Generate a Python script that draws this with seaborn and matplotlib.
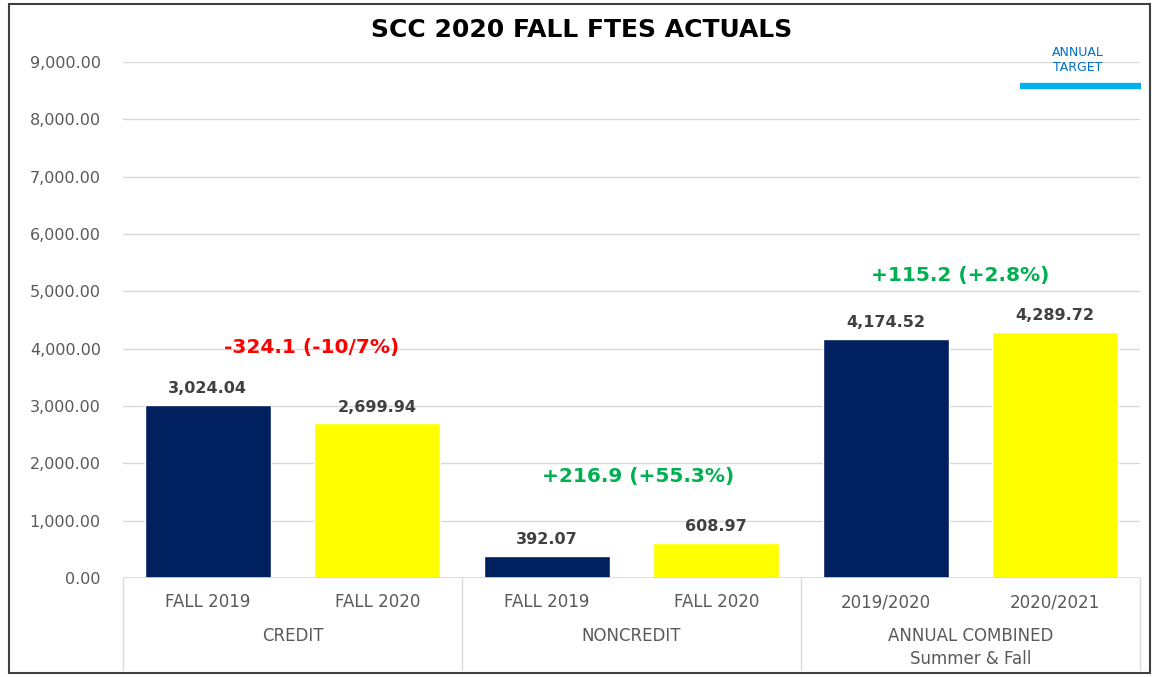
import pandas as pd
import seaborn as sns
import matplotlib.pyplot as plt
from matplotlib.lines import Line2D
from matplotlib.patches import Rectangle
import matplotlib.transforms as mtransforms

# data
groups = ['CREDIT', 'NONCREDIT', 'ANNUAL COMBINED\nSummer & Fall']
periods = ['FALL 2019', 'FALL 2020', 'FALL 2019', 'FALL 2020', '2019/2020', '2020/2021']
ftes = [3024.04, 2699.94, 392.07, 608.97, 4174.52, 4289.72]
changes = ['-324.1 (-10/7%)', '+216.9 (+55.3%)', '+115.2 (+2.8%)']
yticks = [0, 1000, 2000, 3000, 4000, 5000, 6000, 7000, 8000, 9000]

df = pd.DataFrame({'key': [f'{i}' for i in range(len(ftes))], 'period': periods, 'ftes': ftes})
bar_colors = ['#002060', '#FFFF00'] * 3

sns.set_style('white')
plt.rcParams['font.family'] = ['DejaVu Sans']

fig = plt.figure(figsize=(11.52, 6.77), dpi=100)
ax = fig.add_axes([123 / 1152, 1 - 578 / 677, (1140 - 123) / 1152, (578 - 62) / 677])

sns.barplot(data=df, x='key', y='ftes', hue='key', palette=bar_colors, saturation=1,
            width=0.745, legend=False, ax=ax, zorder=3)

ax.set_ylim(0, 9000)
ax.set_xlim(-0.5, 5.5)
ax.set_yticks(yticks)
ax.set_yticklabels([f'{v:,.2f}' for v in yticks], color='#595959', fontsize=11.5)
ax.set_xticks(range(6))
ax.set_xticklabels(periods, color='#595959', fontsize=12)
ax.tick_params(axis='x', length=0, pad=11)
ax.tick_params(axis='y', length=0, pad=16)
ax.set_xlabel('')
ax.set_ylabel('')
ax.grid(axis='y', color='#D9D9D9', linewidth=1, zorder=0)
for s in ax.spines.values():
    s.set_visible(False)
ax.axhline(0, color='#D9D9D9', linewidth=1.2, zorder=4)

# value labels
for i, v in enumerate(ftes):
    ax.text(i, v + 150, f'{v:,.2f}', ha='center', va='bottom', fontsize=11.5,
            fontweight='bold', color='#404040')

# group separators and labels
trans = mtransforms.blended_transform_factory(ax.transData, ax.transAxes)
for xb in [-0.5, 1.5, 3.5, 5.5]:
    ax.add_line(Line2D([xb, xb], [0, -0.178], transform=trans, color='#D9D9D9',
                       linewidth=1, clip_on=False))
for g, name in enumerate(groups):
    ax.text(2 * g + 0.5, -0.095, name, transform=trans, ha='center', va='top',
            fontsize=12, color='#595959', linespacing=1.35)

# change annotations
ax.text(0.615, 4029, changes[0], ha='center', va='center', fontsize=14.5,
        fontweight='bold', color='#FF0000')
ax.text(2.54, 1762, changes[1], ha='center', va='center', fontsize=14.5,
        fontweight='bold', color='#00B050')
ax.text(4.44, 5268, changes[2], ha='center', va='center', fontsize=14.5,
        fontweight='bold', color='#00B050')

# title
fig.text(582 / 1152, 1 - 30 / 677, 'SCC 2020 FALL FTES ACTUALS', ha='center', va='center',
         fontsize=18, fontweight='bold', color='black')

# legend for the annual target series
fig.text(1078 / 1152, 1 - 60 / 677, 'ANNUAL\nTARGET', ha='center', va='center',
         fontsize=9, color='#0070C0', linespacing=1.15)
fig.add_artist(Line2D([1020 / 1152, 1141 / 1152], [1 - 86 / 677, 1 - 86 / 677],
                      color='#00B0F0', linewidth=4.5, solid_capstyle='butt',
                      transform=fig.transFigure))

# chart border
fig.add_artist(Rectangle((9 / 1152, 4 / 677), 1141 / 1152, 669 / 677, fill=False,
                         edgecolor='#404040', linewidth=1.5, transform=fig.transFigure))

fig.savefig('out.png', dpi=100)
plt.close(fig)
